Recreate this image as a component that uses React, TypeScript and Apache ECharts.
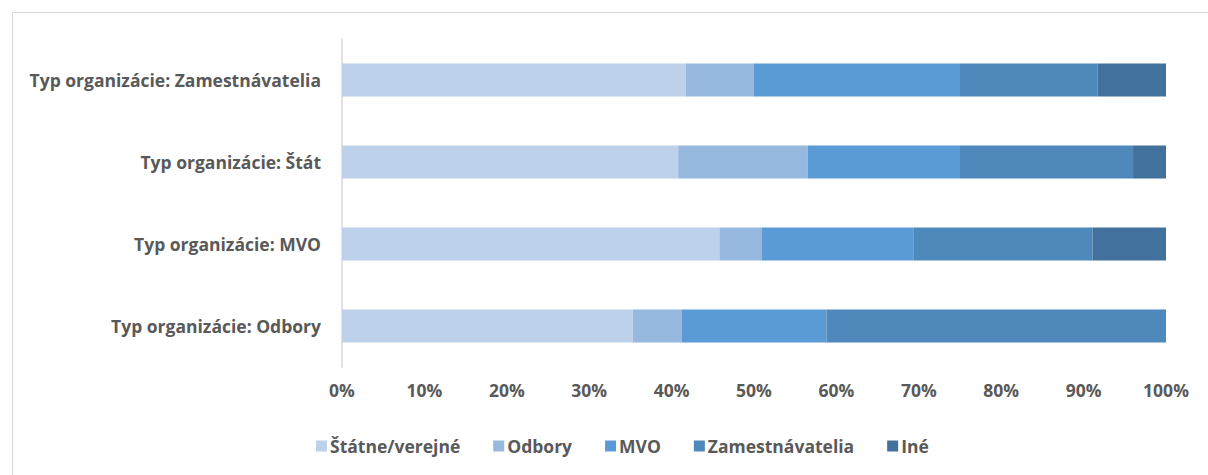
import React, { useEffect, useRef } from "react";
import * as echarts from "echarts";

const categories = [
  "Typ organizácie: Odbory",
  "Typ organizácie: MVO",
  "Typ organizácie: Štát",
  "Typ organizácie: Zamestnávatelia",
];
const seriesNames = ["Štátne/verejné", "Odbory", "MVO", "Zamestnávatelia", "Iné"];
const statne = [35.3, 45.8, 40.8, 41.7];
const odbory = [5.9, 5.1, 15.7, 8.3];
const mvo = [17.6, 18.5, 18.5, 25.0];
const zamestnavatelia = [41.2, 21.7, 21.0, 16.7];
const ine = [0, 8.9, 4.0, 8.3];
const seriesValues = [statne, odbory, mvo, zamestnavatelia, ine];
const colors = ["#BDD1EA", "#97B8DF", "#5B9BD5", "#4F88BB", "#41719C"];

const FONT = "Open Sans";
const TEXT = "#595959";
const FS = 17.5;

export default function App() {
  const ref = useRef<HTMLDivElement>(null);
  useEffect(() => {
    if (!ref.current) return;
    const chart = echarts.init(ref.current, undefined, { renderer: "svg" });
    chart.setOption({
      animation: false,
      graphic: [
        {
          type: "rect",
          left: 10,
          top: 10,
          shape: { x: 0, y: 0, width: 1300, height: 600 },
          style: { fill: "none", stroke: "#D9D9D9", lineWidth: 1 },
          silent: true,
        },
      ],
      grid: { left: 342, right: 42, top: 39, bottom: 108 },
      legend: {
        bottom: 15,
        left: 311,
        itemWidth: 11,
        itemHeight: 11,
        itemGap: 33,
        icon: "rect",
        textStyle: { fontFamily: FONT, fontWeight: "bold", fontSize: FS, color: TEXT, padding: [0, 0, 0, -2] },
        data: seriesNames,
      },
      xAxis: {
        type: "value",
        min: 0,
        max: 100,
        interval: 10,
        axisLine: { show: false },
        axisTick: { show: false },
        splitLine: { show: false },
        axisLabel: {
          formatter: "{value}%",
          margin: 14,
          fontFamily: FONT,
          fontWeight: "bold",
          fontSize: FS,
          color: TEXT,
        },
      },
      yAxis: {
        type: "category",
        data: categories,
        axisLine: { show: true, lineStyle: { color: "#D9D9D9", width: 1.5 } },
        axisTick: { show: false },
        axisLabel: {
          margin: 21,
          fontFamily: FONT,
          fontWeight: "bold",
          fontSize: FS,
          color: TEXT,
        },
      },
      series: seriesNames.map((name, i) => ({
        name,
        type: "bar",
        stack: "total",
        barWidth: 33,
        data: seriesValues[i],
        itemStyle: { color: colors[i] },
      })),
    });
    return () => chart.dispose();
  }, []);
  return (
    <div
      ref={ref}
      style={{ position: "absolute", left: 0, top: 0, width: 1208, height: 475, background: "#fff" }}
    />
  );
}
